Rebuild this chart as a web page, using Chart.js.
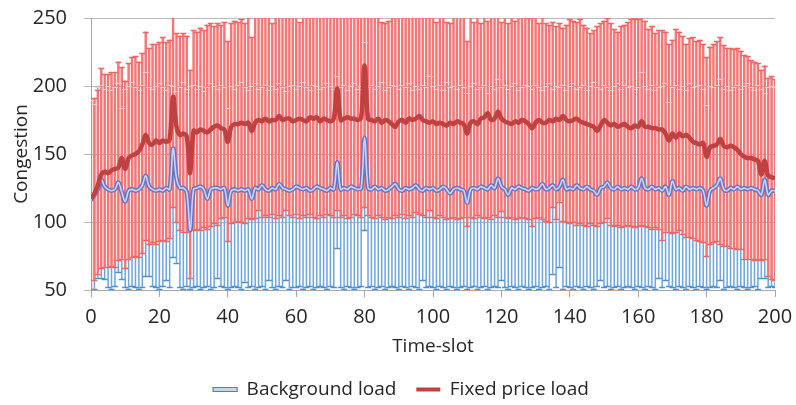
<!DOCTYPE html>
<html>
<head>
<meta charset="utf-8">
<script src="https://cdn.jsdelivr.net/npm/chart.js@4/dist/chart.umd.min.js"></script>
<style>
  html, body { margin: 0; padding: 0; background: #fff; }
  #wrap { width: 796px; height: 405px; }
</style>
</head>
<body>
<div id="wrap"><canvas id="congestionChart" width="796" height="405"></canvas></div>
<script>
// time slots 0..200 (x categories)
const timeSlots = Array.from({ length: 201 }, (_, i) => i);

// mean curves
const backgroundLoad = [
  116,120,124,131,126,124,123,124,129,122,
  115,123,124,123,124,127,134,126,124,123,
  124,123,125,124,154,132,125,125,122,94,
  124,125,126,124,117,124,125,125,124,125,
  112,123,124,123,124,123,124,117,125,124,
  127,124,123,125,124,128,125,124,123,124,
  126,125,124,125,123,124,126,125,124,123,
  125,124,144,124,125,124,126,125,124,125,
  162,125,124,126,124,125,123,124,126,128,
  124,123,125,124,125,127,124,123,125,124,
  125,123,124,126,124,121,124,125,124,123,
  114,124,125,124,126,125,124,127,125,132,
  126,124,120,125,124,126,125,124,123,125,
  124,125,128,124,125,127,124,126,131,124,
  125,124,127,125,124,126,124,123,120,125,
  126,129,125,124,126,124,125,124,126,124,
  125,132,125,124,126,124,125,123,126,120,
  130,124,125,123,126,124,125,124,125,123,
  112,123,125,127,132,124,123,125,124,126,
  124,125,124,125,124,123,120,131,120,123,
  123
];

const fixedPriceLoad = [
  117,121,127,135,137,136,138,139,140,147,
  139,147,149,150,152,157,164,158,157,160,
  158,160,159,161,192,170,164,165,163,136,
  167,166,168,167,166,168,170,171,169,168,
  159,170,172,172,173,172,173,167,173,175,
  174,176,174,175,175,178,175,176,176,174,
  175,176,175,174,177,176,177,174,176,175,
  174,176,198,175,176,177,176,176,175,177,
  215,176,175,174,176,173,175,174,172,170,
  174,175,173,176,175,176,178,175,174,173,
  174,172,173,172,171,173,172,174,173,172,
  165,173,174,172,176,177,180,175,176,181,
  176,174,173,172,174,173,175,174,172,169,
  173,175,173,173,175,174,176,175,178,175,
  174,175,176,174,173,172,171,170,167,171,
  175,173,171,172,170,171,172,170,169,171,
  170,174,170,170,169,169,168,168,165,160,
  165,162,165,163,164,162,159,158,157,158,
  148,155,156,157,161,156,155,156,155,153,
  150,148,147,147,146,145,135,145,134,133,
  132
];

// error bar ends, fixed price load (red)
const fixedHigh = [
  191,191,197,213,209,209,210,210,218,214,
  204,217,221,222,218,224,240,228,231,231,
  232,236,232,234,262,239,237,239,237,212,
  241,240,243,241,245,246,244,246,245,247,
  233,246,248,247,249,246,251,236,252,251,
  254,256,253,246,255,257,254,256,253,255,
  257,247,255,256,254,257,255,256,254,257,
  255,256,258,255,256,254,257,255,256,255,
  258,256,255,257,255,247,246,248,255,256,
  254,257,255,256,254,256,257,255,254,256,
  255,247,254,256,247,246,255,256,254,255,
  233,254,247,255,246,254,248,255,256,254,
  247,255,246,254,248,252,251,252,250,253,
  251,246,251,246,245,247,244,246,243,245,
  249,248,247,249,245,243,239,241,244,246,
  248,250,246,242,240,244,245,247,249,250,
  249,251,248,242,244,239,241,241,240,231,
  234,242,240,237,231,235,236,233,234,231,
  221,229,231,233,236,230,228,228,227,228,
  226,223,222,219,218,217,212,215,206,207,
  205
];

const fixedLow = [
  51,57,62,66,67,67,68,67,72,73,
  66,73,74,75,74,77,87,84,85,84,
  86,87,86,88,111,100,94,93,93,59,
  94,95,94,96,95,97,99,98,103,104,
  86,99,100,101,100,99,103,102,103,109,
  104,105,104,106,103,105,104,109,105,104,
  106,103,105,104,106,104,103,105,104,106,
  105,104,109,104,105,103,104,106,105,104,
  111,105,104,103,105,104,102,104,103,105,
  104,106,103,105,104,107,106,105,104,109,
  104,103,105,104,102,103,104,102,103,104,
  97,104,103,105,104,103,104,102,105,104,
  108,104,103,104,102,103,104,103,102,97,
  103,104,102,101,100,111,102,115,101,100,
  99,100,98,99,98,97,99,98,97,99,
  100,103,98,97,98,96,97,98,97,96,
  97,98,97,96,95,96,95,87,93,93,
  92,93,94,91,89,89,88,87,86,85,
  75,84,85,86,84,82,82,81,81,80,
  80,73,73,73,72,73,72,73,60,58,
  57
];

// error bar ends, background load (blue)
const backgroundHigh = [
  190,187,199,201,198,200,197,199,202,184,
  198,200,203,199,197,201,210,199,198,200,
  202,199,197,201,200,196,199,203,198,200,
  201,198,200,196,199,202,200,198,201,199,
  184,200,198,201,203,199,197,200,202,198,
  199,201,197,200,198,202,199,196,200,201,
  198,200,203,199,197,201,200,198,199,202,
  200,198,207,199,201,197,200,202,198,200,
  232,199,201,198,200,203,197,199,201,200,
  198,201,199,202,197,200,198,201,199,207,
  200,198,201,197,203,199,200,198,201,199,
  195,200,202,198,199,201,195,200,198,205,
  199,201,198,200,202,197,199,201,200,198,
  201,199,197,200,202,198,200,199,201,197,
  200,202,198,199,201,197,200,203,199,198,
  201,199,197,200,202,198,201,199,200,198,
  199,210,200,198,201,197,199,200,202,188,
  199,201,198,200,197,202,199,200,201,198,
  186,200,199,201,205,198,200,197,199,201,
  198,200,202,199,197,201,198,195,199,200,
  199
];

const backgroundLow = [
  50,51,59,59,58,52,51,53,63,58,
  52,51,53,52,51,52,60,60,53,52,
  51,53,57,52,74,70,52,51,53,51,
  52,53,51,52,53,51,52,59,53,52,
  51,52,53,52,51,56,52,53,51,52,
  53,51,57,52,51,53,52,57,51,52,
  52,53,51,52,53,51,52,53,52,51,
  53,52,81,52,51,53,52,51,52,53,
  94,52,53,51,52,53,51,52,53,52,
  51,53,52,51,53,52,51,57,52,53,
  52,51,53,52,51,53,52,51,52,53,
  51,52,53,51,52,53,51,52,53,52,
  57,52,51,53,52,51,53,52,51,52,
  53,51,52,53,51,62,52,67,51,53,
  52,51,53,52,51,53,52,51,53,57,
  52,53,51,52,53,51,52,53,52,51,
  53,52,51,53,52,51,59,52,57,53,
  52,51,53,52,51,53,52,51,53,52,
  51,52,53,52,57,51,52,53,52,51,
  53,52,51,52,53,51,59,59,52,53,
  52
];

const yTicks = [50, 100, 150, 200, 250];
const xTicks = [0, 20, 40, 60, 80, 100, 120, 140, 160, 180, 200];

const FONT = '"Open Sans", "DejaVu Sans", sans-serif';
const TEXT = '#262626';

// draws the little horizontal caps of the error bars
const capsPlugin = {
  id: 'errorCaps',
  afterDatasetDraw(chart, args) {
    const ds = chart.data.datasets[args.index];
    if (!ds.caps) return;
    const { ctx, chartArea } = chart;
    const xs = chart.scales.x;
    const ys = chart.scales.y;
    ctx.save();
    ctx.beginPath();
    ctx.rect(chartArea.left, chartArea.top, chartArea.right - chartArea.left, chartArea.bottom - chartArea.top);
    ctx.clip();
    ds.caps.forEach(c => {
      ctx.strokeStyle = c.color;
      ctx.lineWidth = c.width;
      ctx.beginPath();
      c.values.forEach((v, i) => {
        const x = xs.getPixelForValue(timeSlots[i]);
        const y = Math.round(ys.getPixelForValue(v)) + 0.5;
        ctx.moveTo(x - 3, y);
        ctx.lineTo(x + 3, y);
      });
      ctx.stroke();
    });
    ctx.restore();
  }
};

// nudge the legend a few pixels lower
const legendShift = {
  id: 'legendShift',
  afterLayout(chart) {
    const lg = chart.legend;
    if (lg) { lg.top += 4; lg.bottom += 4; }
  }
};

const ctx = document.getElementById('congestionChart');

new Chart(ctx, {
  data: {
    labels: timeSlots,
    datasets: [
      {
        type: 'bar',
        label: 'bg range',
        data: backgroundLow.map((lo, i) => [lo, backgroundHigh[i]]),
        backgroundColor: '#6fa7dd',
        borderWidth: 0,
        grouped: false,
        barPercentage: 0.45,
        categoryPercentage: 1,
        order: 6,
        caps: [{ values: backgroundLow, color: '#4a8fd4', width: 1.5 }]
      },
      {
        type: 'bar',
        label: 'fixed range',
        data: fixedLow.map((lo, i) => [lo, fixedHigh[i]]),
        backgroundColor: '#f67676',
        borderWidth: 0,
        grouped: false,
        barPercentage: 0.72,
        categoryPercentage: 1,
        order: 5,
        caps: [
          { values: fixedHigh, color: '#f06464', width: 1.6 },
          { values: fixedLow, color: '#f06464', width: 1.6 },
          { values: backgroundHigh, color: 'rgba(238,205,212,0.95)', width: 1 }
        ]
      },
      {
        type: 'line',
        label: 'Background load',
        data: backgroundLoad,
        borderColor: '#6674c4',
        backgroundColor: '#c7d5ef',
        borderWidth: 4.5,
        pointRadius: 0,
        tension: 0.4,
        order: 4
      },
      {
        type: 'line',
        label: 'bg inner',
        data: backgroundLoad,
        borderColor: '#cdd5f2',
        borderWidth: 1.6,
        pointRadius: 0,
        tension: 0.4,
        order: 3
      },
      {
        type: 'line',
        label: 'Fixed price load',
        data: fixedPriceLoad,
        borderColor: '#bf4141',
        backgroundColor: '#bf4141',
        borderWidth: 4.5,
        pointRadius: 0,
        tension: 0.4,
        order: 2
      }
    ]
  },
  options: {
    responsive: false,
    devicePixelRatio: 1,
    animation: false,
    events: [],
    layout: { padding: { top: 0, right: 0, left: 6, bottom: 0 } },
    font: { family: FONT },
    scales: {
      x: {
        type: 'linear',
        min: 0,
        max: 200,
        offset: false,
        afterBuildTicks: scale => { scale.ticks = xTicks.map(v => ({ value: v })); },
        afterFit: scale => {
          scale.height = 66;
          scale.paddingLeft = 0;
          scale.paddingRight = 21;
        },
        ticks: { font: { family: FONT, size: 20 }, color: TEXT, padding: 8, maxRotation: 0 },
        grid: { drawOnChartArea: false, drawTicks: true, tickLength: 7, color: '#a6a6a6', offset: false },
        border: { color: '#a6a6a6' },
        title: { display: true, text: 'Time-slot', font: { family: FONT, size: 19 }, color: TEXT, padding: { top: 0, bottom: -2 } }
      },
      y: {
        min: 50,
        max: 250,
        z: 1,
        afterBuildTicks: scale => { scale.ticks = yTicks.map(v => ({ value: v })); },
        afterFit: scale => {
          scale.width = 85;
          scale.paddingTop = 18;
          scale.paddingBottom = 0;
        },
        ticks: { font: { family: FONT, size: 20 }, color: TEXT, padding: 17 },
        grid: { color: 'rgba(140,140,140,0.6)', tickLength: 7 },
        border: { color: '#a6a6a6' },
        title: { display: true, text: 'Congestion', font: { family: FONT, size: 19 }, color: TEXT, padding: { top: 4, bottom: 4 } }
      }
    },
    plugins: {
      tooltip: { enabled: false },
      legend: {
        position: 'bottom',
        labels: {
          font: { family: FONT, size: 19 },
          color: TEXT,
          boxWidth: 24,
          boxHeight: 4,
          padding: 20,
          generateLabels: () => [
            { text: 'Background load', fillStyle: '#c7d5ef', strokeStyle: '#4f7fc0', lineWidth: 1.2, fontColor: TEXT, hidden: false, datasetIndex: 2 },
            { text: 'Fixed price load', fillStyle: '#bf4141', strokeStyle: '#bf4141', lineWidth: 0, fontColor: TEXT, hidden: false, datasetIndex: 4 }
          ]
        }
      }
    }
  },
  plugins: [capsPlugin, legendShift]
});
</script>
</body>
</html>
